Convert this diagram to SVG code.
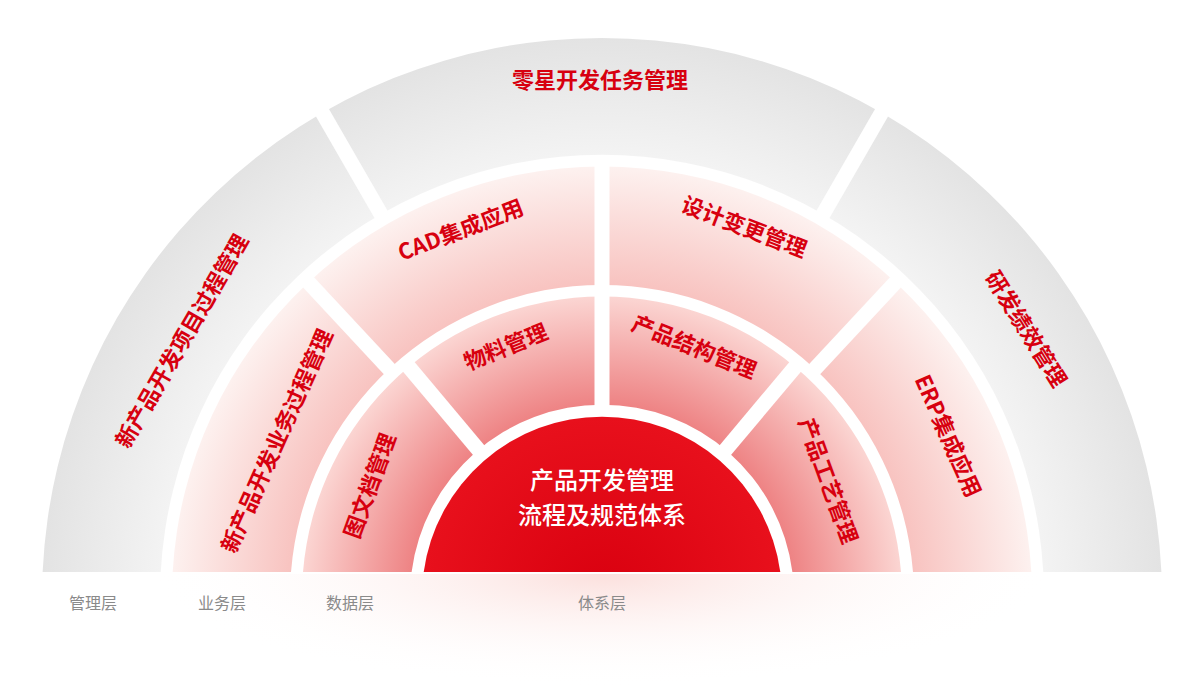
<svg xmlns="http://www.w3.org/2000/svg" width="1190" height="695" viewBox="0 0 1190 695">
<defs>
<radialGradient id="gMg" gradientUnits="userSpaceOnUse" cx="602" cy="597" r="560">
<stop offset="0.79" stop-color="#f3f3f3"/><stop offset="1" stop-color="#e3e3e3"/></radialGradient>
<radialGradient id="gBz" gradientUnits="userSpaceOnUse" cx="602" cy="597" r="560">
<stop offset="0.557" stop-color="#f8c3c0"/><stop offset="0.768" stop-color="#fdf1ef"/></radialGradient>
<radialGradient id="gDt" gradientUnits="userSpaceOnUse" cx="602" cy="597" r="560">
<stop offset="0.343" stop-color="#ee8384"/><stop offset="0.536" stop-color="#fbd5d2"/></radialGradient>
<radialGradient id="gRd" gradientUnits="userSpaceOnUse" cx="602" cy="597" r="180">
<stop offset="0" stop-color="#d9000f"/><stop offset="1" stop-color="#e8101c"/></radialGradient>
<radialGradient id="gRef" gradientUnits="userSpaceOnUse" cx="602" cy="574" r="450" gradientTransform="translate(0,574) scale(1,0.25) translate(0,-574)">
<stop offset="0" stop-color="#fbdcd9" stop-opacity="0.9"/><stop offset="1" stop-color="#ffffff" stop-opacity="0"/></radialGradient>
</defs>
<style>
.lbl{font-family:"Noto Sans CJK SC","Liberation Sans",sans-serif;font-size:22px;font-weight:700;fill:#d7000f;text-anchor:middle;dominant-baseline:central}
.ctr{font-family:"Noto Sans CJK SC","Liberation Sans",sans-serif;font-size:24px;font-weight:500;fill:#ffffff;text-anchor:middle;dominant-baseline:central}
.lay{font-family:"Noto Sans CJK SC","Liberation Sans",sans-serif;font-size:16px;fill:#8a8a8a;text-anchor:middle;dominant-baseline:central}
.sep{stroke:#ffffff;stroke-width:15;stroke-linecap:butt}
</style>
<rect x="0" y="0" width="1190" height="695" fill="#ffffff"/>
<rect x="100" y="574" width="1000" height="121" fill="url(#gRef)"/>
<g id="ring-management"><path d="M 42.6 572 A560 560 0 0 1 1161.4 572 L 1043.3 572 A442 442 0 0 0 160.7 572 Z" fill="url(#gMg)"/></g>
<g id="ring-business"><path d="M 172.7 572 A430 430 0 0 1 1031.3 572 L 913 572 A312 312 0 0 0 291 572 Z" fill="url(#gBz)"/></g>
<g id="ring-data"><path d="M 303 572 A300 300 0 0 1 901 572 L 792.4 572 A192 192 0 0 0 411.6 572 Z" fill="url(#gDt)"/></g>
<g id="core"><path d="M 423.7 572 A180 180 0 0 1 780.3 572 Z" fill="url(#gRd)"/>
<text class="ctr" x="602" y="478">产品开发管理</text>
<text class="ctr" x="602" y="513">流程及规范体系</text></g>
<g id="separators">
<line class="sep" x1="383" y1="217.7" x2="320" y2="108.6"/>
<line class="sep" x1="821" y1="217.7" x2="884" y2="108.6"/>
<line class="sep" x1="391.9" y1="371.8" x2="306" y2="279.7"/>
<line class="sep" x1="812.1" y1="371.8" x2="898" y2="279.7"/>
<line class="sep" x1="602" y1="289" x2="602" y2="163"/>
<line class="sep" x1="602" y1="409" x2="602" y2="293"/>
<line class="sep" x1="481.1" y1="453" x2="406.5" y2="364.1"/>
<line class="sep" x1="722.9" y1="453" x2="797.5" y2="364.1"/>
</g>
<g id="n-mg1"><text class="lbl" transform="translate(180,340) rotate(-60)">新产品开发项目过程管理</text></g>
<g id="n-mg2"><text class="lbl" transform="translate(600,78)">零星开发任务管理</text></g>
<g id="n-mg3"><text class="lbl" transform="translate(1028,328) rotate(58)">研发绩效管理</text></g>
<g id="n-bz1"><text class="lbl" transform="translate(275,440) rotate(-66)">新产品开发业务过程管理</text></g>
<g id="n-bz2"><text class="lbl" transform="translate(460,228) rotate(-21)">CAD集成应用</text></g>
<g id="n-bz3"><text class="lbl" transform="translate(745,225) rotate(21)">设计变更管理</text></g>
<g id="n-bz4"><text class="lbl" transform="translate(950,435) rotate(66)">ERP集成应用</text></g>
<g id="n-dt1"><text class="lbl" transform="translate(368,485) rotate(-70)">图文档管理</text></g>
<g id="n-dt2"><text class="lbl" transform="translate(505,345) rotate(-22)">物料管理</text></g>
<g id="n-dt3"><text class="lbl" transform="translate(695,345) rotate(22)">产品结构管理</text></g>
<g id="n-dt4"><text class="lbl" transform="translate(830,480) rotate(70)">产品工艺管理</text></g>
<g id="layers">
<text class="lay" x="93" y="602">管理层</text>
<text class="lay" x="222" y="602">业务层</text>
<text class="lay" x="350" y="602">数据层</text>
<text class="lay" x="602" y="602">体系层</text>
</g>
</svg>
